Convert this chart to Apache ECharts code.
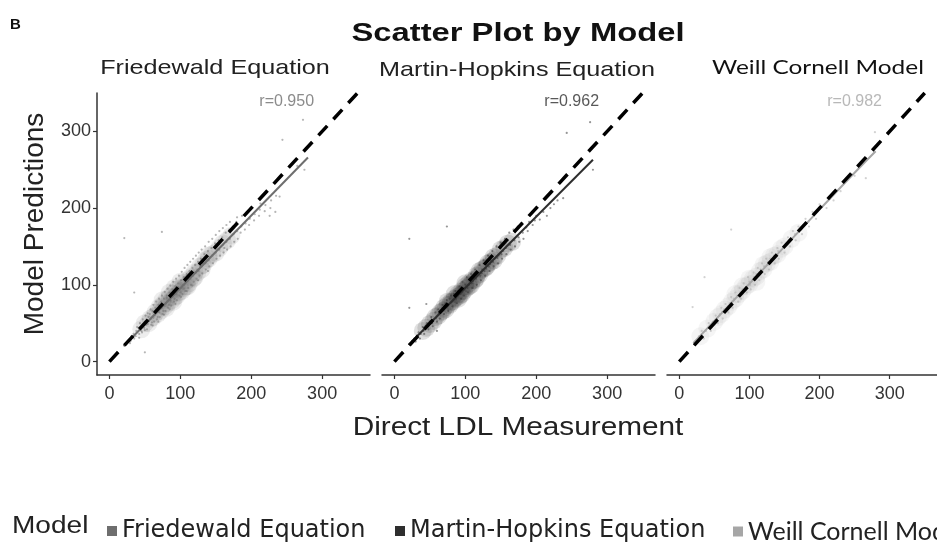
<!DOCTYPE html>
<html>
<head>
<meta charset="utf-8">
<script src="https://cdn.jsdelivr.net/npm/echarts@6/dist/echarts.min.js"></script>
<style>
  html, body { margin: 0; padding: 0; background: #fff; }
  #chart { width: 937px; height: 552px; }
</style>
</head>
<body>
<div id="chart"></div>
<script>
// model names (panel order)
var models = ['Friedewald Equation', 'Martin-Hopkins Equation', 'Weill Cornell Model']
var modelColors = ['#6e6e6e', '#2e2e2e', '#a6a6a6']
var rLabels = ['r=0.950', 'r=0.962', 'r=0.982']
var rLabelPos = [250, 339]
var tickValues = [0, 100, 200, 300]
var identityLine = [[0, 0], [350, 350]]

// fitted lines
var fitFriedewald = [[20, 20], [280, 266]]
var fitMartin = [[20, 22], [280, 263]]
var fitWeill = [[20, 24], [80, 82], [140, 140], [200, 198], [250, 246], [280, 274]]

// dense centre of each cloud
var coreFriedewald = [[45,42],[50,50],[55,50],[58,56],[62,58],[65,64],[68,62],[70,70],[72,66],[75,74],[78,72],[80,80],[82,76],[85,84],[88,80],[90,88],[92,84],[95,94],[98,90],[100,96],[102,92],[105,102],[108,98],[110,106],[112,102],[115,110],[118,108],[120,116],[124,116],[128,124],[132,126],[136,132],[140,134],[145,140],[150,142],[155,148],[160,154],[166,158],[172,164],[85,90],[95,86],[105,96],[90,78],[100,104],[110,98],[75,80],[120,110],[130,120],[140,138],[80,70],[92,96]]
var coreMartin = [[40,40],[45,44],[50,49],[55,53],[58,58],[62,60],[65,64],[68,66],[70,70],[72,68],[75,74],[78,74],[80,78],[82,78],[85,82],[88,84],[90,88],[92,86],[95,92],[98,92],[100,98],[102,96],[105,102],[108,100],[110,106],[113,106],[116,112],[120,114],[124,120],[128,122],[132,128],[136,130],[140,136],[145,138],[150,146],[155,148],[160,154],[166,156],[85,88],[95,88],[105,98],[90,82],[100,102],[115,108],[75,78],[120,118],[130,124],[140,132]]
var coreWeill = [[30,33],[40,43],[50,52],[55,58],[60,62],[65,68],[70,72],[75,78],[80,82],[85,88],[90,92],[95,98],[100,101],[105,108],[110,111],[115,118],[120,120],[125,128],[130,130],[135,138],[140,140],[145,147],[150,150],[160,160],[170,168],[100,108],[110,104],[90,98],[120,126],[80,88],[130,136]]

// individual points around the clouds
var ptsFriedewald = [[30,27],[31,33],[29,24],[34,36],[35,30],[38,40],[37,33],[39,45],[42,36],[41,44],[43,50],[42,31],
  [46,47],[45,40],[47,55],[46,38],[50,52],[49,44],[51,60],[50,41],[52,48],[54,49],[55,58],[53,42],[54,63],[56,53],
  [58,55],[57,62],[59,48],[58,68],[60,51],[62,57],[61,66],[63,52],[62,74],[64,60],[61,47],[66,63],[65,70],[67,55],
  [66,78],[68,58],[65,67],[70,64],[69,74],[71,58],[70,82],[72,69],[69,52],[74,70],[73,78],[75,62],[74,86],[76,66],
  [73,74],[78,72],[77,82],[79,66],[78,91],[80,76],[77,61],[82,78],[81,86],[83,70],[82,95],[84,74],[81,83],[86,80],
  [85,90],[87,73],[86,99],[88,84],[85,68],[90,86],[89,94],[91,78],[90,104],[92,82],[89,90],[94,88],[93,98],[95,80],
  [94,108],[96,93],[93,75],[98,94],[97,102],[99,86],[98,112],[100,90],[97,97],[102,96],[101,106],[103,88],[102,117],
  [104,100],[101,84],[106,100],[105,110],[107,92],[106,122],[108,104],[105,95],[110,105],[109,114],[111,96],[110,126],
  [112,108],[109,92],[114,108],[113,118],[115,100],[114,130],[116,112],[118,112],[117,122],[119,104],[118,134],[120,116],
  [117,99],[122,116],[121,126],[123,108],[122,138],[124,120],[126,118],[125,130],[127,112],[126,142],[128,124],[125,106],
  [130,124],[129,134],[131,115],[130,146],[132,128],[135,128],[134,140],[136,120],[135,150],[137,132],[140,132],[139,144],
  [141,124],[140,156],[142,136],[139,118],[145,138],[144,148],[146,128],[145,160],[150,142],[149,154],[151,134],[150,165],
  [152,146],[155,146],[154,158],[156,138],[155,170],[160,152],[159,162],[161,142],[160,174],[162,148],[165,156],[164,168],
  [166,146],[165,178],[170,160],[169,172],[171,150],[170,182],[175,166],[174,176],[176,156],[180,170],[179,182],[181,160],
  [180,188],[186,176],[185,168],[187,190],[192,180],[191,172],[193,194],[198,186],[197,178],[199,200],[205,192],[204,184],
  [212,198],[211,190],[213,206],[220,204],[219,196],[228,210],[227,200],[235,216],[234,195],
  [21,161],[74,169],[35,90],[50,12],[244,289],[273,315],[265,255],[275,250],[240,215],[226,190]]
var ptsMartin = [[22,22],[25,27],[28,30],[30,26],[32,34],[34,38],[36,30],[37,36],[40,45],[42,36],[41,40],[44,47],
  [46,50],[48,42],[47,46],[50,52],[52,58],[54,46],[53,50],[56,55],[58,64],[60,52],[59,57],[61,60],[62,68],[64,56],
  [63,62],[66,65],[68,74],[70,62],[69,67],[71,70],[72,76],[74,80],[76,66],[75,72],[77,75],[78,82],[80,86],[82,72],
  [81,78],[83,80],[84,88],[86,92],[88,76],[87,82],[89,86],[90,92],[92,98],[94,82],[93,88],[95,90],[96,104],[98,86],
  [97,93],[99,96],[100,100],[102,110],[104,90],[103,96],[105,100],[106,106],[108,114],[110,96],[109,102],[111,105],
  [112,110],[114,120],[116,100],[115,108],[117,111],[118,116],[120,126],[122,106],[121,112],[123,115],[124,120],
  [126,132],[128,112],[127,118],[129,121],[130,126],[132,138],[134,118],[133,124],[135,127],[136,132],[138,144],
  [140,124],[139,130],[141,134],[144,150],[146,128],[145,135],[147,138],[150,155],[152,134],[151,140],[153,144],
  [156,160],[158,140],[157,148],[162,168],[164,146],[163,152],[168,172],[170,150],[169,158],[174,176],[176,156],
  [175,162],[180,180],[182,160],[181,168],[186,175],[190,182],[188,170],[195,178],[200,190],[198,184],[205,185],
  [210,195],[215,190],[220,200],[225,205],[230,210],[238,213],
  [243,298],[276,312],[280,250],[21,160],[74,176],[21,70],[60,40],[45,75]]
var ptsWeill = [[22,26],[25,28],[28,33],[32,40],[35,30],[38,40],[42,50],[45,40],[44,46],[48,52],[52,60],[55,50],
  [54,56],[58,62],[60,70],[62,56],[61,64],[64,68],[66,75],[70,64],[69,72],[72,76],[74,84],[76,70],[75,78],[78,82],
  [80,90],[84,78],[83,86],[86,96],[88,82],[87,90],[90,94],[92,102],[96,90],[95,97],[98,110],[100,104],[102,94],
  [101,100],[104,106],[106,116],[108,100],[107,110],[110,114],[112,122],[114,106],[113,116],[116,120],[118,128],
  [122,114],[121,124],[124,134],[126,126],[128,120],[127,130],[132,142],[130,134],[136,128],[135,138],[140,148],
  [142,134],[141,144],[146,155],[150,142],[149,150],[155,162],[158,150],[157,158],[162,170],[166,158],[165,166],
  [170,176],[175,166],[174,172],[180,186],[185,176],[184,182],[190,195],[195,186],[200,205],[210,200],[215,212],
  [220,210],[230,222],[240,238],[250,242],[266,239],[279,299],[19,71],[74,172],[36,110]]

var cores = [coreFriedewald, coreMartin, coreWeill]
var pts = [ptsFriedewald, ptsMartin, ptsWeill]
var fits = [fitFriedewald, fitMartin, fitWeill]
var gridLefts = [97, 382, 667]
var legendLefts = [102, 390, 728]
var coreOpacity = [0.12, 0.15, 0.11]

var myChart = echarts.init(document.getElementById('chart'))

var grids = [], xAxes = [], yAxes = [], series = [], legends = []
for (var i = 0; i < 3; i++) {
  grids.push({ left: gridLefts[i], top: 93, width: 273, height: 282 })
  xAxes.push({
    gridIndex: i, type: 'value', min: -17.5, max: 367.5,
    axisLine: { show: true, onZero: false, lineStyle: { color: '#333', width: 1.5 } },
    axisTick: { show: true, customValues: tickValues, length: 4, lineStyle: { color: '#333', width: 1.2 } },
    axisLabel: { customValues: tickValues, fontSize: 18, color: '#333', margin: 10, fontFamily: 'Liberation Sans' },
    splitLine: { show: false }
  })
  yAxes.push({
    gridIndex: i, type: 'value', min: -17.5, max: 350,
    axisLine: { show: i === 0, onZero: false, lineStyle: { color: '#333', width: 1.5 } },
    axisTick: { show: i === 0, customValues: tickValues, length: 4, lineStyle: { color: '#333', width: 1.2 } },
    axisLabel: { show: i === 0, customValues: tickValues, fontSize: 18, color: '#333', margin: 6, fontFamily: 'Liberation Sans' },
    splitLine: { show: false }
  })
  series.push({
    name: models[i], type: 'scatter', xAxisIndex: i, yAxisIndex: i, silent: true,
    data: cores[i], symbolSize: 18,
    itemStyle: { color: modelColors[i], opacity: coreOpacity[i] }
  })
  series.push({
    name: models[i], type: 'scatter', xAxisIndex: i, yAxisIndex: i, silent: true,
    data: pts[i], symbolSize: 2.2,
    itemStyle: { color: modelColors[i], opacity: 0.5 }
  })
  series.push({
    type: 'line', xAxisIndex: i, yAxisIndex: i, silent: true, showSymbol: false, smooth: true,
    data: fits[i], lineStyle: { color: modelColors[i], width: 2 }, z: 3
  })
  series.push({
    type: 'line', xAxisIndex: i, yAxisIndex: i, silent: true, showSymbol: false,
    data: identityLine, lineStyle: { color: '#000', width: 3.5, type: [13, 9] }, z: 4
  })
  series.push({
    type: 'scatter', xAxisIndex: i, yAxisIndex: i, silent: true, symbolSize: 0,
    data: [rLabelPos],
    label: { show: true, position: 'inside', formatter: rLabels[i], fontSize: 16,
      fontFamily: 'Liberation Sans', color: modelColors[i] }
  })
  // one legend per model so the row can run past the right edge like the original
  legends.push({
    left: legendLefts[i], top: 514, icon: 'rect', itemWidth: 10, itemHeight: 10,
    selectedMode: false,
    textStyle: { fontSize: i === 2 ? 25 : 24, color: '#222', fontFamily: i === 2 ? 'Lato' : 'DejaVu Sans' },
    data: [{ name: models[i], itemStyle: { color: modelColors[i], opacity: 1 } }]
  })
}

function txt(x, y, text, size, opts) {
  opts = opts || {}
  return {
    type: 'text', x: x, y: y, rotation: opts.rotation || 0, scaleX: opts.scaleX || 1,
    style: { text: text, fontSize: size, fontWeight: opts.bold ? 'bold' : 'normal', fill: opts.fill || '#222',
      fontFamily: opts.font || 'Liberation Sans', align: opts.align || 'center', verticalAlign: 'middle' }
  }
}

var option = {
  backgroundColor: '#fff',
  animation: false,
  grid: grids,
  xAxis: xAxes,
  yAxis: yAxes,
  legend: legends,
  graphic: [
    txt(10, 25, 'B', 15, { bold: true, align: 'left', fill: '#111' }),
    txt(518, 34, 'Scatter Plot by Model', 26, { bold: true, fill: '#111', scaleX: 1.26 }),
    txt(215, 68, models[0], 21, { scaleX: 1.2 }),
    txt(517, 70, models[1], 21, { scaleX: 1.2 }),
    txt(818, 68, models[2], 20, { font: 'Lato', fill: '#111', scaleX: 1.22 }),
    txt(35, 224, 'Model Predictions', 28, { rotation: Math.PI / 2 }),
    txt(518, 428, 'Direct LDL Measurement', 25, { scaleX: 1.19 }),
    txt(12, 527, 'Model', 23, { align: 'left', scaleX: 1.22 })
  ],
  series: series
}
myChart.setOption(option)
</script>
</body>
</html>
